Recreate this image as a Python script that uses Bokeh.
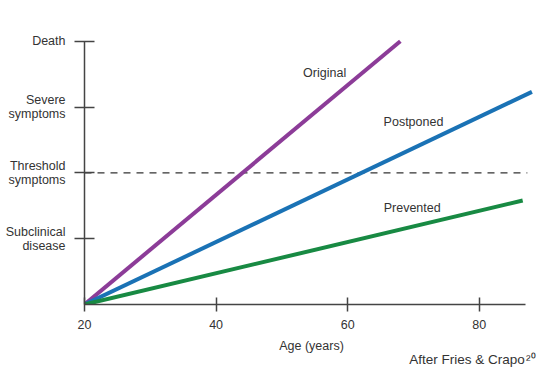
from bokeh.plotting import figure
from bokeh.models import Range1d, FixedTicker, Label, Title
from bokeh.embed import file_html
from bokeh.resources import INLINE

# --- data ---
original_age = [20, 68]
original_level = [0, 4]
postponed_age = [20, 88]
postponed_level = [0, 3.23]
prevented_age = [20, 86.6]
prevented_level = [0, 1.58]
threshold_age = [20, 87.3]
threshold_level = [2, 2]

x_ticks = [20, 40, 60, 80]
y_ticks = [1, 2, 3, 4]
y_tick_labels = ["Subclinical\ndisease", "Threshold\nsymptoms", "Severe\nsymptoms", "Death"]

series_names = ["Original", "Postponed", "Prevented"]
series_label_x = [56.5, 70.0, 69.8]
series_label_y = [3.51, 2.78, 1.47]
series_colors = ["#8c3c98", "#1a72b5", "#188a43"]

source_note = "After Fries & Crapo\u200a\u00b2\u2070"

FONT = "Liberation Sans"
TXT = "#333333"
AX = "#444444"

p = figure(width=555, height=372, output_backend="svg", toolbar_location=None,
           x_range=Range1d(20, 89), y_range=Range1d(0, 4.3),
           min_border_left=84, min_border_right=17, min_border_top=21, min_border_bottom=68)
p.outline_line_color = None
p.xgrid.visible = False
p.ygrid.visible = False
p.background_fill_color = "white"
p.border_fill_color = "white"

# threshold dashed line
p.line(threshold_age, threshold_level, line_color="#333333", line_width=1.3, line_dash="7 6")

for ages, lv, c in [(original_age, original_level, series_colors[0]),
                    (postponed_age, postponed_level, series_colors[1]),
                    (prevented_age, prevented_level, series_colors[2])]:
    p.line(ages, lv, line_color=c, line_width=4)

for name, lx, ly in zip(series_names, series_label_x, series_label_y):
    p.add_layout(Label(x=lx, y=ly, text=name, text_align="center", text_baseline="middle",
                       text_font=FONT, text_font_size="12.5px", text_color=TXT))

# x axis
xa = p.xaxis[0]
xa.ticker = FixedTicker(ticks=x_ticks)
xa.bounds = (20, 87)
xa.axis_line_color = AX
xa.axis_line_width = 1.5
xa.major_tick_line_color = AX
xa.major_tick_line_width = 1.5
xa.major_tick_in = 7
xa.major_tick_out = 7
xa.minor_tick_line_color = None
xa.major_label_text_font = FONT
xa.major_label_text_font_size = "12.5px"
xa.major_label_text_color = TXT
xa.major_label_standoff = 8
xa.axis_label = "Age (years)"
xa.axis_label_text_font = FONT
xa.axis_label_text_font_size = "12.5px"
xa.axis_label_text_font_style = "normal"
xa.axis_label_text_color = TXT
xa.axis_label_standoff = 7

# y axis
ya = p.yaxis[0]
ya.ticker = FixedTicker(ticks=y_ticks)
ya.bounds = (0, 4)
ya.major_label_overrides = {t: l for t, l in zip(y_ticks, y_tick_labels)}
ya.axis_line_color = AX
ya.axis_line_width = 1.5
ya.major_tick_line_color = AX
ya.major_tick_line_width = 1.5
ya.major_tick_in = 10
ya.major_tick_out = 10
ya.minor_tick_line_color = None
ya.major_label_text_font = FONT
ya.major_label_text_font_size = "12.5px"
ya.major_label_text_line_height = 1.0
ya.major_label_text_color = TXT
ya.major_label_standoff = 9

# source note below the axis
note = Title(text=source_note, align="right", offset=3, standoff=-12,
             text_font=FONT, text_font_size="13.5px", text_font_style="normal",
             text_color=TXT)
p.add_layout(note, "below")

open("out.html", "w").write(file_html(p, INLINE))
